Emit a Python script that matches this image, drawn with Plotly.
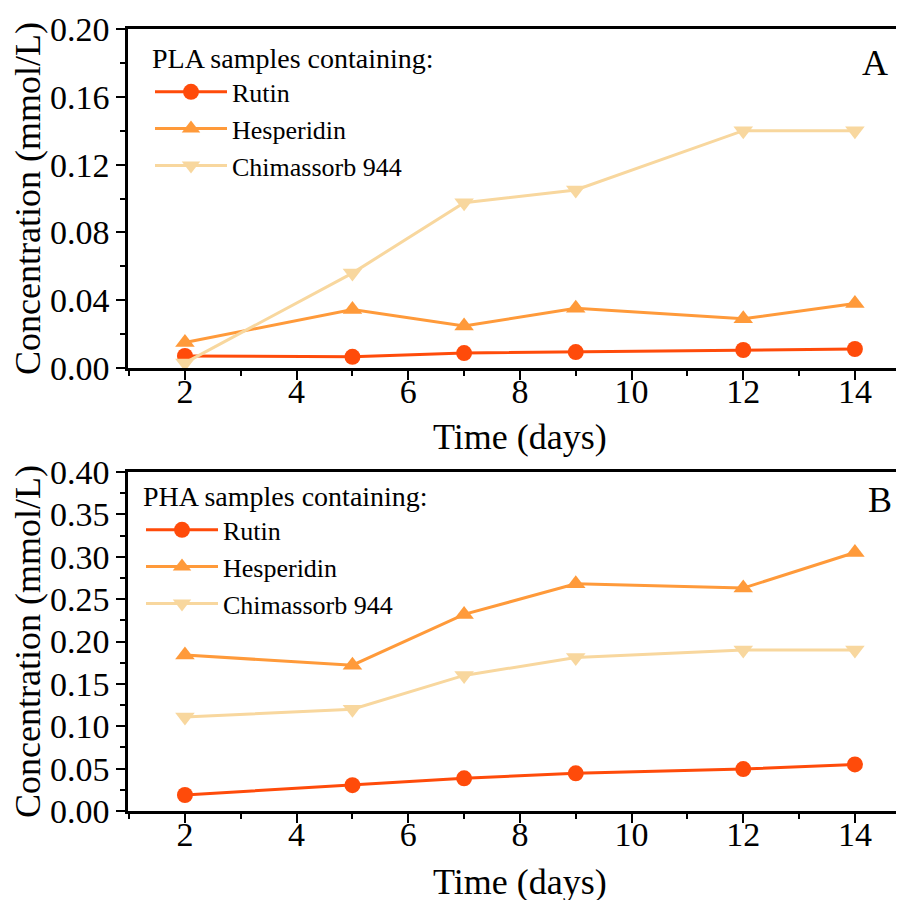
import plotly.graph_objects as go

days = [2, 5, 7, 9, 12, 14]
series_names = ["Rutin", "Hesperidin", "Chimassorb 944"]

pla_rutin = [0.0071, 0.0066, 0.0088, 0.0094, 0.0106, 0.0112]
pla_hesperidin = [0.0150, 0.0345, 0.0248, 0.0352, 0.0290, 0.0380]
pla_chimassorb = [0.0030, 0.0560, 0.0975, 0.1050, 0.1400, 0.1400]

pha_rutin = [0.0189, 0.0305, 0.0385, 0.0445, 0.0495, 0.0550]
pha_hesperidin = [0.184, 0.172, 0.232, 0.268, 0.263, 0.305]
pha_chimassorb = [0.111, 0.120, 0.160, 0.181, 0.190, 0.190]

colors = ["#FF4B0A", "#FF9A3A", "#F8D79E"]
symbols = ["circle", "triangle-up", "triangle-down"]

FONT = "Liberation Serif, Times New Roman, serif"
W, H = 904, 900
OFF = 8  # page body margin

fig = go.Figure()

for i, (name, vals) in enumerate(zip(series_names, [pla_rutin, pla_hesperidin, pla_chimassorb])):
    fig.add_trace(go.Scatter(
        x=days, y=vals, name=name, mode="lines+markers",
        line=dict(color=colors[i], width=3),
        marker=dict(symbol=symbols[i], size=16 if i == 0 else 17, color=colors[i]),
        xaxis="x", yaxis="y", legend="legend"))

for i, (name, vals) in enumerate(zip(series_names, [pha_rutin, pha_hesperidin, pha_chimassorb])):
    fig.add_trace(go.Scatter(
        x=days, y=vals, name=name, mode="lines+markers",
        line=dict(color=colors[i], width=3),
        marker=dict(symbol=symbols[i], size=16 if i == 0 else 17, color=colors[i]),
        xaxis="x2", yaxis="y2", legend="legend2"))


def px(xs):
    return (xs - OFF) / W


def py(ys):
    return 1 - (ys - OFF) / H


xdom = [px(128), 1.0]
top_dom = [py(368), py(29)]
bot_dom = [py(811), py(472)]
x_range = [0.98, 0.98 + (W - (128 - OFF)) / 55.83]

tick_font = dict(family=FONT, size=34, color="black")


def xaxis_cfg(anchor):
    return dict(
        anchor=anchor, domain=xdom, automargin=False,
        range=x_range, tick0=0, dtick=2, ticks="outside", ticklen=9, tickwidth=2,
        tickcolor="black", showline=True, linewidth=2.5, linecolor="black", mirror=True,
        showgrid=False, zeroline=False, ticklabelstandoff=-18,
        minor=dict(dtick=1, tick0=1, ticks="outside", ticklen=5, tickwidth=2, tickcolor="black"),
        tickfont=tick_font,
    )


def yaxis_cfg(anchor, dom, top, step, minor_step):
    return dict(
        anchor=anchor, domain=dom, automargin=False, range=[0, top], tick0=0, dtick=step,
        tickformat=".2f",
        ticks="outside", ticklen=9, tickwidth=2, tickcolor="black", showline=True,
        linewidth=2.5, linecolor="black", showgrid=False, zeroline=False,
        minor=dict(dtick=minor_step, ticks="outside", ticklen=5, tickwidth=2, tickcolor="black"),
        tickfont=tick_font,
        title=dict(text="Concentration (mmol/L)", font=dict(family=FONT, size=36, color="black"), standoff=2),
    )


fig.update_layout(
    width=W, height=H,
    margin=dict(l=0, r=0, t=0, b=0, autoexpand=False),
    plot_bgcolor="white", paper_bgcolor="white",
    font=dict(family=FONT, color="black"),
    xaxis=xaxis_cfg("y"),
    yaxis=yaxis_cfg("x", top_dom, 0.2, 0.04, 0.02),
    xaxis2=xaxis_cfg("y2"),
    yaxis2=yaxis_cfg("x2", bot_dom, 0.4, 0.05, 0.025),
    legend=dict(
        x=px(150), y=py(32), xanchor="left", yanchor="top",
        bgcolor="rgba(0,0,0,0)", itemwidth=72, tracegroupgap=0,
        font=dict(family=FONT, size=26, color="black"),
        title=dict(text="PLA samples containing:", font=dict(family=FONT, size=28, color="black")),
    ),
    legend2=dict(
        x=px(141), y=py(470), xanchor="left", yanchor="top",
        bgcolor="rgba(0,0,0,0)", itemwidth=72, tracegroupgap=0,
        font=dict(family=FONT, size=26, color="black"),
        title=dict(text="PHA samples containing:", font=dict(family=FONT, size=28, color="black")),
    ),
    annotations=[
        dict(text="Time (days)", x=px(520), y=py(437), xref="paper", yref="paper",
             xanchor="center", yanchor="middle", showarrow=False,
             font=dict(family=FONT, size=36, color="black")),
        dict(text="Time (days)", x=px(520), y=py(882), xref="paper", yref="paper",
             xanchor="center", yanchor="middle", showarrow=False,
             font=dict(family=FONT, size=36, color="black")),
        dict(text="A", x=px(875), y=py(63), xref="paper", yref="paper",
             xanchor="center", yanchor="middle",
             showarrow=False, font=dict(family=FONT, size=36, color="black")),
        dict(text="B", x=px(880), y=py(500), xref="paper", yref="paper",
             xanchor="center", yanchor="middle",
             showarrow=False, font=dict(family=FONT, size=36, color="black")),
    ],
)

fig.write_html("out.html")
